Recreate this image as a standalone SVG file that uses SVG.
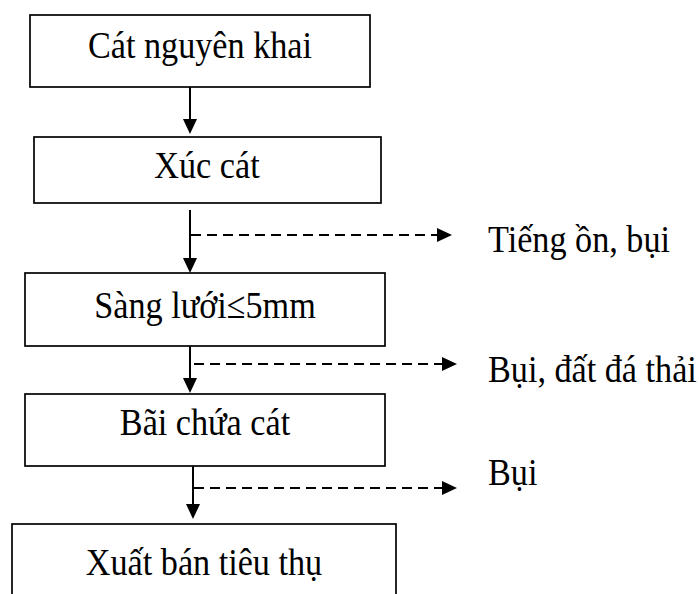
<svg xmlns="http://www.w3.org/2000/svg" width="699" height="594" viewBox="0 0 699 594">
<defs>
<style>
.box{fill:#fff;stroke:#000;stroke-width:1.7}
.t{font-family:"Liberation Serif","Times New Roman",serif;font-size:38px;fill:#000}
.c{text-anchor:middle}
.ln{stroke:#000;stroke-width:2;fill:none}
.dl{stroke:#000;stroke-width:2;fill:none;stroke-dasharray:10 6}
.ah{fill:#000;stroke:none}
</style>
</defs>
<g id="n1"><rect class="box" x="30" y="15" width="340" height="72"/><text class="t c" transform="translate(200 58) scale(0.9 1)">Cát nguyên khai</text></g>
<g id="n2"><rect class="box" x="34" y="137" width="347" height="66"/><text class="t c" transform="translate(207 178) scale(0.9 1)">Xúc cát</text></g>
<g id="n3"><rect class="box" x="25" y="273" width="360" height="73"/><text class="t c" transform="translate(205 318) scale(0.9 1)">Sàng lưới≤5mm</text></g>
<g id="n4"><rect class="box" x="25" y="394" width="360" height="72"/><text class="t c" transform="translate(205 435) scale(0.9 1)">Bãi chứa cát</text></g>
<g id="n5"><rect class="box" x="12" y="524" width="384" height="80"/><text class="t c" transform="translate(204 575) scale(0.9 1)">Xuất bán tiêu thụ</text></g>
<g id="l1"><text class="t" transform="translate(488 252) scale(0.9 1)">Tiếng ồn, bụi</text></g>
<g id="l2"><text class="t" transform="translate(488 382) scale(0.9 1)">Bụi, đất đá thải</text></g>
<g id="l3"><text class="t" transform="translate(488 485) scale(0.9 1)">Bụi</text></g>
<g id="connectors">
<line class="ln" x1="190" y1="87" x2="190" y2="122"/>
<polygon class="ah" points="183,119 197,119 190,134"/>
<line class="ln" x1="190" y1="210" x2="190" y2="260"/>
<polygon class="ah" points="183,258 197,258 190,273"/>
<line class="ln" x1="190" y1="346" x2="190" y2="380"/>
<polygon class="ah" points="183,378 197,378 190,393"/>
<line class="ln" x1="193" y1="466" x2="193" y2="506"/>
<polygon class="ah" points="186,504 200,504 193,519"/>
<line class="dl" x1="191" y1="235" x2="438" y2="235"/>
<polygon class="ah" points="437,228 437,242 452,235"/>
<line class="dl" x1="194" y1="364" x2="443" y2="364"/>
<polygon class="ah" points="442,357 442,371 457,364"/>
<line class="dl" x1="194" y1="488" x2="443" y2="488"/>
<polygon class="ah" points="442,481 442,495 457,488"/>
</g>
</svg>
